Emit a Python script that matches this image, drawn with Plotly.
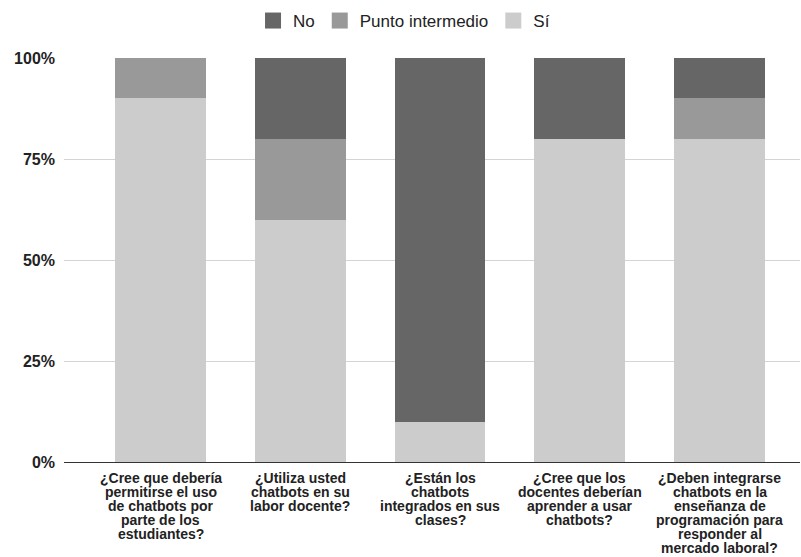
import plotly.graph_objects as go

# ---- data ----
category_lines = [
    ["¿Cree que debería", "permitirse el uso", "de chatbots por", "parte de los", "estudiantes?"],
    ["¿Utiliza usted", "chatbots en su", "labor docente?"],
    ["¿Están los", "chatbots", "integrados en sus", "clases?"],
    ["¿Cree que los", "docentes deberían", "aprender a usar", "chatbots?"],
    ["¿Deben integrarse", "chatbots en la", "enseñanza de", "programación para", "responder al", "mercado laboral?"],
]
categories = [" ".join(l) for l in category_lines]

si_values = [0.90, 0.60, 0.10, 0.80, 0.80]
punto_values = [0.10, 0.20, 0.00, 0.00, 0.10]
no_values = [0.00, 0.20, 0.90, 0.20, 0.10]

series_names = ["No", "Punto intermedio", "Sí"]
series_colors = {"No": "#666666", "Punto intermedio": "#999999", "Sí": "#cccccc"}

y_tick_vals = [0, 0.25, 0.5, 0.75, 1.0]
y_tick_text = ["0%", "25%", "50%", "75%", "100%"]

FONT = "Liberation Sans, Arial, sans-serif"

fig = go.Figure()

# stacked bars bottom -> top: Sí, Punto intermedio, No
for name, vals in [("Sí", si_values), ("Punto intermedio", punto_values), ("No", no_values)]:
    fig.add_trace(go.Bar(
        x=categories, y=vals, name=name,
        marker=dict(color=series_colors[name], line=dict(width=0)),
        showlegend=False,
    ))

# legend entries (square markers)
for name in series_names:
    fig.add_trace(go.Scatter(
        x=[None], y=[None], mode="markers", name=name,
        marker=dict(symbol="square", size=17, color=series_colors[name]),
        showlegend=True,
    ))

# multi-line category labels, tight line spacing
LINE_STEP = 14
for cat, lines in zip(categories, category_lines):
    for k, line in enumerate(lines):
        fig.add_annotation(
            x=cat, y=0, xref="x", yref="y",
            text=line, showarrow=False,
            yanchor="top", xanchor="center",
            yshift=-6 - LINE_STEP * k,
            font=dict(family=FONT, size=14, color="#222222", weight="bold"),
        )

fig.update_layout(
    width=801, height=557,
    margin=dict(l=64, r=1, t=58, b=95),
    paper_bgcolor="white", plot_bgcolor="white",
    barmode="stack", bargap=0.349,
    font=dict(family=FONT, color="#222222"),
    legend=dict(
        orientation="h", x=0.462, xanchor="center",
        y=1.0916, yanchor="middle", traceorder="normal",
        font=dict(family=FONT, size=17, color="#222222"),
        bgcolor="rgba(0,0,0,0)",
    ),
    xaxis=dict(
        type="category",
        range=[-0.6905, 4.576],
        showticklabels=False, showgrid=False,
        showline=True, linecolor="#333333", linewidth=1,
        zeroline=False, fixedrange=True,
    ),
    yaxis=dict(
        range=[0, 1],
        tickvals=y_tick_vals, ticktext=y_tick_text,
        showgrid=True, gridcolor="#d4d4d4", gridwidth=1,
        zeroline=False, showline=False,
        ticklabelstandoff=8,
        tickfont=dict(family=FONT, size=16, color="#222222", weight="bold"),
    ),
)

fig.write_html("out.html")
